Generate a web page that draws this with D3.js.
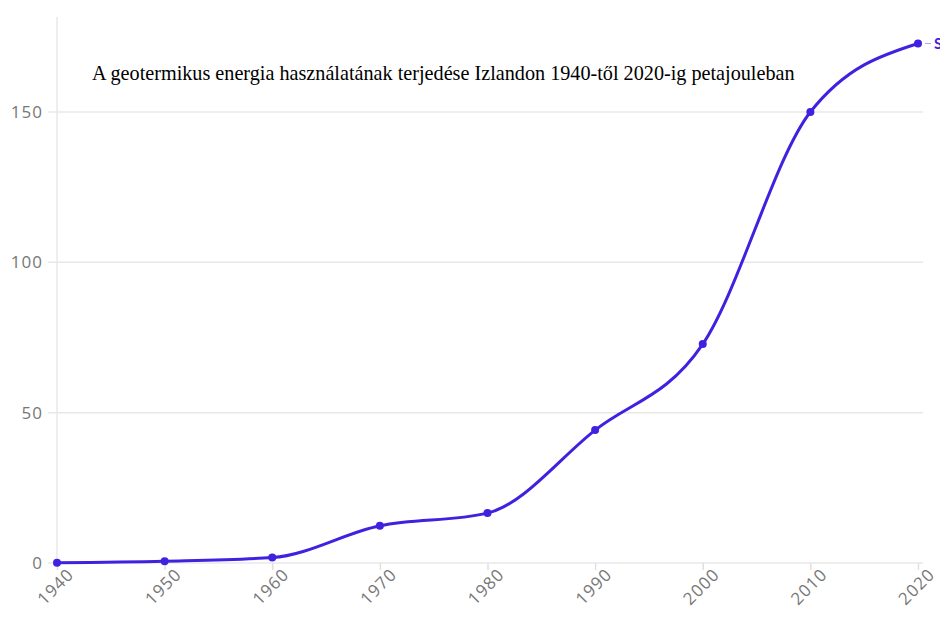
<!DOCTYPE html>
<meta charset="utf-8">
<style>
  body { margin: 0; background: #fff; }
  svg { display: block; }
  .tick text { font-family: "Open Sans", "Lato", sans-serif; fill: #777; letter-spacing: 1px; }
</style>
<svg width="940" height="633"></svg>
<script src="https://d3js.org/d3.v7.min.js"></script>
<script>
  // data
  var years = [1940, 1950, 1960, 1970, 1980, 1990, 2000, 2010, 2020];
  var values = [0.1, 0.6, 1.8, 12.4, 16.6, 44.2, 72.8, 150, 172.8];
  var yTicks = [0, 50, 100, 150];
  var seriesLabel = "S";
  var title = "A geotermikus energia használatának terjedése Izlandon 1940-től 2020-ig petajouleban";

  var svg = d3.select("svg"),
    margin = {top: 17, right: 22, bottom: 70, left: 57},
    width = +svg.attr("width") - margin.left - margin.right,
    height = +svg.attr("height") - margin.top - margin.bottom;

  var g = svg.append("g").attr("transform", "translate(" + margin.left + "," + margin.top + ")");

  var x = d3.scaleLinear().domain([1940, 2020]).range([0, 861]);
  var y = d3.scaleLinear().domain([0, 181.6]).range([height, 0]);

  // horizontal grid
  g.selectAll(".grid")
    .data(yTicks)
    .enter().append("line")
    .attr("x1", -9)
    .attr("x2", 866)
    .attr("y1", function(d) { return y(d); })
    .attr("y2", function(d) { return y(d); })
    .style("stroke", "#e8e8e8")
    .style("stroke-width", 1.5);

  // vertical axis line
  g.append("line")
    .attr("x1", 0).attr("x2", 0)
    .attr("y1", 0).attr("y2", height)
    .style("stroke", "#e8e8e8")
    .style("stroke-width", 1.5);

  // y labels
  var yAxis = g.append("g")
    .call(d3.axisLeft(y).tickValues(yTicks).tickSize(0).tickPadding(14));
  yAxis.select(".domain").remove();
  yAxis.selectAll("text").style("font-size", "17px");

  // x axis
  var xAxis = g.append("g")
    .attr("transform", "translate(0," + height + ")")
    .call(d3.axisBottom(x).tickValues(years).tickFormat(d3.format("d")).tickSize(7).tickPadding(4));
  xAxis.select(".domain").remove();
  xAxis.selectAll(".tick line").style("stroke", "#e0e0e0").style("stroke-width", 1.5);
  xAxis.selectAll("text")
    .style("font-size", "17px")
    .style("text-anchor", "end")
    .attr("dx", "0.2em")
    .attr("dy", "0.6em")
    .attr("transform", "rotate(-45)");

  var pts = years.map(function(d, i) { return [d, values[i]]; });

  var line = d3.line()
    .x(function(d) { return x(d[0]); })
    .y(function(d) { return y(d[1]); })
    .curve(d3.curveMonotoneX);

  g.append("path")
    .datum(pts)
    .attr("d", line)
    .style("fill", "none")
    .style("stroke", "#3f22e0")
    .style("stroke-width", 3);

  g.selectAll(".dot")
    .data(pts)
    .enter().append("circle")
    .attr("cx", function(d) { return x(d[0]); })
    .attr("cy", function(d) { return y(d[1]); })
    .attr("r", 4)
    .style("fill", "#3f22e0");

  // end label (cut off at the edge, as in the original)
  var last = pts[pts.length - 1];
  g.append("line")
    .attr("x1", x(last[0]) + 7).attr("x2", x(last[0]) + 13)
    .attr("y1", y(last[1])).attr("y2", y(last[1]))
    .style("stroke", "#b0a8f0")
    .style("stroke-width", 1);
  g.append("text")
    .attr("x", x(last[0]) + 16)
    .attr("y", y(last[1]))
    .attr("dy", "0.35em")
    .style("font", "bold 15px Lato, sans-serif")
    .style("fill", "#3f22e0")
    .text(seriesLabel);

  // title
  svg.append("text")
    .attr("x", 92)
    .attr("y", 80)
    .style("font", "20.2px 'Liberation Serif', 'Times New Roman', serif")
    .style("fill", "#000")
    .text(title);
</script>
